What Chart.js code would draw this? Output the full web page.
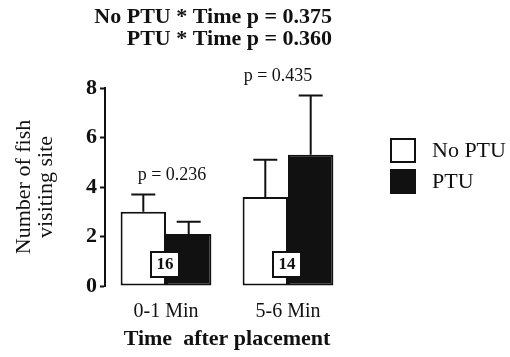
<!DOCTYPE html>
<html>
<head>
<meta charset="utf-8">
<style>
  html, body { margin: 0; padding: 0; background: #fff; }
  canvas { display: block; }
</style>
</head>
<body>
<canvas id="chart" width="510" height="357"></canvas>
<script src="https://cdn.jsdelivr.net/npm/chart.js@4/dist/chart.umd.min.js"></script>
<script>
// data
const categories = ["0-1 Min", "5-6 Min"];
const seriesNames = ["No PTU", "PTU"];
const noPtu = [3.0, 3.6];
const ptu = [2.1, 5.3];
const noPtuErr = [0.7, 1.5];
const ptuErr = [0.5, 2.4];
const counts = ["16", "14"];
const pLabels = ["p = 0.236", "p = 0.435"];
const headerLines = ["No PTU * Time p = 0.375", "PTU * Time p = 0.360"];
const yTicks = [0, 2, 4, 6, 8];

const serif = "'Liberation Serif', 'DejaVu Serif', serif";

const extras = {
    id: "extras",
    afterDatasetsDraw(chart) {
        const ctx = chart.ctx;
        const y = chart.scales.y;
        const errs = [noPtuErr, ptuErr];
        const vals = [noPtu, ptu];
        ctx.save();
        ctx.strokeStyle = "#111";
        ctx.fillStyle = "#111";
        ctx.lineWidth = 2;

        // error bars (upper only)
        for (let d = 0; d < 2; d++) {
            const meta = chart.getDatasetMeta(d);
            meta.data.forEach((bar, i) => {
                const top = y.getPixelForValue(vals[d][i] + errs[d][i]);
                ctx.beginPath();
                ctx.moveTo(bar.x, bar.y);
                ctx.lineTo(bar.x, top);
                ctx.moveTo(bar.x - 12, top);
                ctx.lineTo(bar.x + 12, top);
                ctx.stroke();
            });
        }

        // sample size boxes and p values
        const m0 = chart.getDatasetMeta(0).data;
        const m1 = chart.getDatasetMeta(1).data;
        const pShift = [7, -9];
        for (let i = 0; i < categories.length; i++) {
            const cx = (m0[i].x + m1[i].x) / 2 - 1;
            const base = y.getPixelForValue(0);
            ctx.fillStyle = "#fff";
            ctx.fillRect(cx - 14, base - 34, 28, 25);
            ctx.strokeRect(cx - 14, base - 34, 28, 25);
            ctx.fillStyle = "#111";
            ctx.font = "bold 17px " + serif;
            ctx.textAlign = "center";
            ctx.textBaseline = "middle";
            ctx.fillText(counts[i], cx, base - 21);

            const hi = Math.max(noPtu[i] + noPtuErr[i], ptu[i] + ptuErr[i]);
            ctx.font = "18px " + serif;
            ctx.fillText(pLabels[i], cx + pShift[i], y.getPixelForValue(hi) - 19);
        }

        // header
        ctx.font = "bold 22px " + serif;
        ctx.textAlign = "right";
        ctx.fillText(headerLines[0], 332, 17);
        ctx.fillText(headerLines[1], 332, 39);

        // legend
        const fills = ["#fff", "#111"];
        ctx.textAlign = "left";
        ctx.font = "22px " + serif;
        for (let k = 0; k < seriesNames.length; k++) {
            const by = 139 + k * 31;
            ctx.fillStyle = fills[k];
            ctx.fillRect(391, by, 24, 23);
            ctx.strokeRect(391, by, 24, 23);
            ctx.fillStyle = "#111";
            ctx.fillText(seriesNames[k], 432, by + 12);
        }
        ctx.restore();
    }
};

new Chart(document.getElementById("chart"), {
    type: "bar",
    data: {
        labels: categories,
        datasets: [
            {
                label: seriesNames[0],
                data: noPtu,
                backgroundColor: "#fff",
                borderColor: "#111",
                borderWidth: 2,
                borderSkipped: false
            },
            {
                label: seriesNames[1],
                data: ptu,
                backgroundColor: "#111",
                borderColor: "#111",
                borderWidth: 2,
                borderSkipped: false
            }
        ]
    },
    options: {
        responsive: false,
        animation: false,
        devicePixelRatio: 1,
        barPercentage: 1,
        categoryPercentage: 0.744,
        layout: { padding: { top: 88, right: 161, left: 0, bottom: 0 } },
        plugins: {
            legend: { display: false },
            tooltip: { enabled: false }
        },
        scales: {
            x: {
                grid: { display: false },
                border: { display: false },
                ticks: { color: "#111", font: { family: serif, size: 20 }, padding: 6 },
                title: {
                    display: true,
                    text: "Time  after placement",
                    color: "#111",
                    font: { family: serif, size: 22, weight: "bold" },
                    padding: { top: 2 }
                },
                afterFit(s) { s.height = 71; }
            },
            y: {
                min: 0,
                max: 8,
                afterBuildTicks(s) {
                    const t = [];
                    for (let v = 0; v <= 8; v++) t.push({ value: v });
                    s.ticks = t;
                },
                ticks: {
                    color: "#111",
                    font: { family: serif, size: 22, weight: "bold" },
                    padding: 3,
                    callback: v => (yTicks.includes(v) ? v : "")
                },
                grid: {
                    drawOnChartArea: false,
                    tickLength: 5,
                    tickColor: "#111",
                    tickWidth: c => (yTicks.includes(c.tick.value) ? 2 : 1)
                },
                border: { color: "#111", width: 2 },
                title: {
                    display: true,
                    text: ["Number of fish", "visiting site"],
                    color: "#111",
                    font: { family: serif, size: 22, lineHeight: 1 },
                    padding: { top: 13, bottom: 0 }
                },
                afterFit(s) { s.width = 105; }
            }
        }
    },
    plugins: [extras]
});
</script>
</body>
</html>
